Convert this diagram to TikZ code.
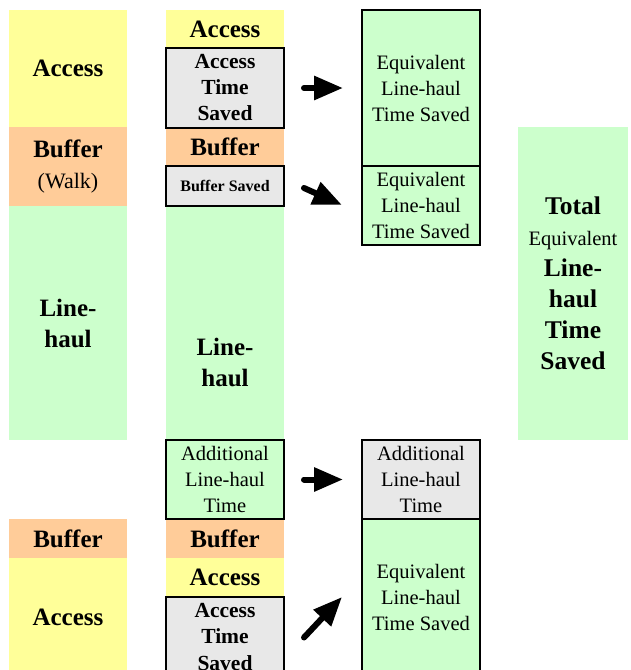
\documentclass[tikz,border=0pt]{standalone}
\usepackage{fontspec}
\setmainfont{Liberation Serif}
\usetikzlibrary{arrows.meta}
\definecolor{yel}{HTML}{FFFF99}
\definecolor{org}{HTML}{FFCC99}
\definecolor{grn}{HTML}{CCFFCC}
\definecolor{gry}{HTML}{E8E8E8}
\begin{document}
\begin{tikzpicture}[x=1pt,y=-1pt,
  seg/.style={rectangle, inner sep=0pt, outer sep=0pt, minimum width=118pt, align=center, anchor=north},
  bx/.style={seg, draw=black, line width=1.2pt},
  bigb/.style={align=center, font=\fontsize{25}{31}\selectfont\bfseries},
  medb/.style={align=center, font=\fontsize{21.5}{26}\selectfont\bfseries},
  smallb/.style={align=center, font=\fontsize{16}{18}\selectfont\bfseries},
  reg/.style={align=center, font=\fontsize{20.5}{26}\selectfont},
  bigarrow/.style={line width=6pt, line cap=round, -{Triangle[length=29pt,width=23pt]}}]
\useasboundingbox (0,0) rectangle (630,670);
% column 1
\node[seg, fill=yel, minimum height=117pt, bigb] (c1acc) at (68,10) {Access};
\node[seg, fill=org, minimum height=79pt, bigb] (c1buf) at (68,127) {Buffer\\{\mdseries\fontsize{22}{31}\selectfont(Walk)}};
\node[seg, fill=grn, minimum height=234pt, bigb] (c1lh) at (68,206) {Line-\\haul};
\node[seg, fill=org, minimum height=39pt, bigb] (c1buf2) at (68,519) {Buffer};
\node[seg, fill=yel, minimum height=118pt, bigb] (c1acc2) at (68,558) {Access};
% column 2
\node[seg, fill=yel, minimum height=38pt, bigb] (c2acc) at (225,10) {Access};
\node[seg, fill=org, minimum height=38pt, bigb] (c2buf) at (225,128) {Buffer};
\node[seg, fill=grn, minimum height=234pt] (c2lh) at (225,206) {};
\node[bigb] (c2lht) at (225,362) {Line-\\haul};
\node[seg, fill=org, minimum height=39pt, bigb] (c2buf2) at (225,519) {Buffer};
\node[seg, fill=yel, minimum height=39pt, bigb] (c2acc2) at (225,558) {Access};
\node[bx, fill=gry, minimum height=80pt, medb] (c2ats) at (225,48) {Access\\Time\\Saved};
\node[bx, fill=gry, minimum height=40pt, smallb] (c2bs) at (225,166) {Buffer Saved};
\node[bx, fill=grn, minimum height=79pt, reg] (c2add) at (225,440) {Additional\\Line-haul\\Time};
\node[bx, fill=gry, minimum height=80pt, medb] (c2ats2) at (225,597) {Access\\Time\\Saved};
% column 3
\node[bx, fill=grn, minimum height=156pt, reg] (c3e1) at (421,10) {Equivalent\\Line-haul\\Time Saved};
\node[bx, fill=grn, minimum height=79pt, reg] (c3e2) at (421,166) {Equivalent\\Line-haul\\Time Saved};
\node[bx, fill=gry, minimum height=79pt, reg] (c3add) at (421,440) {Additional\\Line-haul\\Time};
\node[bx, fill=grn, minimum height=156pt, reg] (c3e3) at (421,519) {Equivalent\\Line-haul\\Time Saved};
% column 4
\node[seg, fill=grn, minimum width=110pt, minimum height=313pt, font=\fontsize{25.5}{31}\selectfont\bfseries] (c4) at (573,127)
  {Total\\{\mdseries\fontsize{20.5}{29}\selectfont Equivalent}\\Line-\\haul\\Time\\Saved};
% arrows
\coordinate (a1s) at ([xshift=20pt]c2ats.east);
\coordinate (a1e) at ([xshift=-19pt]c3e1.west);
\coordinate (a2s) at ([xshift=20pt,yshift=-2pt]c2bs.east);
\coordinate (a2e) at ([xshift=-20pt,yshift=0.5pt]c3e2.west);
\coordinate (a3s) at ([xshift=20pt]c2add.east);
\coordinate (a3e) at ([xshift=-19pt]c3add.west);
\coordinate (a4s) at ([xshift=20pt,yshift=-0.5pt]c2ats2.east);
\coordinate (a4e) at ([xshift=-20pt]c3e3.west);
\draw[bigarrow] (a1s) -- (a1e);
\draw[bigarrow] (a2s) -- (a2e);
\draw[bigarrow] (a3s) -- (a3e);
\draw[bigarrow] (a4s) -- (a4e);
\end{tikzpicture}
\end{document}
